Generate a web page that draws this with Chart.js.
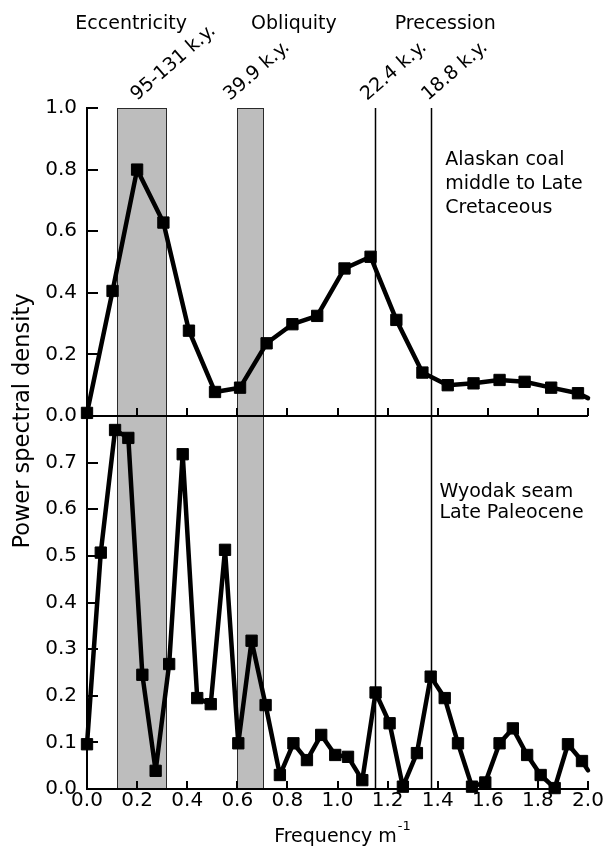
<!DOCTYPE html>
<html>
<head>
<meta charset="utf-8">
<title>Power spectral density</title>
<script src="https://cdn.jsdelivr.net/npm/chart.js@4.4.1/dist/chart.umd.min.js"></script>
<style>
  html, body { margin: 0; padding: 0; background: #fff; }
  #wrap { width: 606px; height: 846px; }
</style>
</head>
<body>
<div id="wrap"><canvas id="psdChart" width="606" height="846"></canvas></div>
<script>
// --- Data ---
// top panel: Alaskan coal, middle to Late Cretaceous (last point is the line end, no marker)
const alaskaFreq = [0, 0.102, 0.2, 0.305, 0.407, 0.511, 0.611, 0.717, 0.82, 0.919,
    1.028, 1.132, 1.235, 1.339, 1.44, 1.543, 1.647, 1.747, 1.853, 1.96, 2.0];
const alaskaPower = [0.01, 0.406, 0.80, 0.628, 0.277, 0.078, 0.092, 0.236, 0.298, 0.325,
    0.479, 0.517, 0.312, 0.141, 0.10, 0.106, 0.117, 0.111, 0.092, 0.074, 0.058];

// bottom panel: Wyodak seam, Late Paleocene
const wyodakFreq = [0, 0.055, 0.112, 0.165, 0.221, 0.274, 0.328, 0.382, 0.44, 0.494,
    0.551, 0.604, 0.657, 0.713, 0.77, 0.824, 0.878, 0.935, 0.991, 1.042,
    1.099, 1.152, 1.208, 1.261, 1.317, 1.372, 1.428, 1.481, 1.537, 1.59,
    1.647, 1.70, 1.757, 1.811, 1.867, 1.92, 1.976, 2.0];
const wyodakPower = [0.096, 0.507, 0.770, 0.753, 0.245, 0.039, 0.268, 0.718, 0.195, 0.182,
    0.513, 0.098, 0.318, 0.180, 0.030, 0.098, 0.062, 0.116, 0.073, 0.069,
    0.019, 0.207, 0.141, 0.005, 0.077, 0.241, 0.195, 0.098, 0.005, 0.014,
    0.098, 0.130, 0.073, 0.030, 0.002, 0.096, 0.060, 0.04];

const xTicks = [0, 0.2, 0.4, 0.6, 0.8, 1.0, 1.2, 1.4, 1.6, 1.8, 2.0];
const topTicks = [0, 0.2, 0.4, 0.6, 0.8, 1.0];
const bottomTicks = [0, 0.1, 0.2, 0.3, 0.4, 0.5, 0.6, 0.7];

// orbital bands / lines, in frequency (m^-1)
const bands = [[0.12, 0.32], [0.60, 0.707]];
const periodLines = [1.15, 1.373];
const periodLabels = ['95-131 k.y.', '39.9 k.y.', '22.4 k.y.', '18.8 k.y.'];
const periodLabelFreq = [0.2, 0.571, 1.118, 1.361];
const cycleNames = ['Eccentricity', 'Obliquity', 'Precession'];
const cycleNameFreq = [0.176, 0.826, 1.43];
const alaskaNote = ['Alaskan coal', 'middle to Late', 'Cretaceous'];
const wyodakNote = ['Wyodak seam', 'Late Paleocene'];

const FONT = '"DejaVu Sans", sans-serif';

window.onload = () => {
    initChart();
};

// --- Helpers ---
function toPoints(xs, ys) {
    return xs.map((x, i) => ({ x: x, y: ys[i] }));
}

// marker on every point but the final line end
function markerRadii(n) {
    return Array.from({ length: n }, (_, i) => (i === n - 1 ? 0 : 8));
}

function setTicks(list) {
    return scale => { scale.ticks = list.map(v => ({ value: v })); };
}

// --- Extra drawing: bands, period lines, inner axis, ticks, texts ---
const panelDecor = {
    id: 'panelDecor',
    beforeDraw(chart) {
        const { ctx, scales: { x, yTop, yBot } } = chart;
        const top = yTop.getPixelForValue(1);
        const bottom = yBot.getPixelForValue(0);
        ctx.save();
        ctx.fillStyle = '#fff';
        ctx.fillRect(0, 0, chart.width, chart.height);

        bands.forEach(([a, b]) => {
            const l = Math.round(x.getPixelForValue(a));
            const r = Math.round(x.getPixelForValue(b));
            ctx.fillStyle = '#bdbdbd';
            ctx.fillRect(l, top, r - l, bottom - top);
            ctx.strokeStyle = '#2a2a2a';
            ctx.lineWidth = 1;
            ctx.strokeRect(l + 0.5, top + 0.5, r - l - 1, bottom - top);
        });

        ctx.strokeStyle = '#000';
        ctx.lineWidth = 1.5;
        periodLines.forEach(f => {
            const px = Math.round(x.getPixelForValue(f)) + 0.5;
            ctx.beginPath();
            ctx.moveTo(px, top);
            ctx.lineTo(px, bottom);
            ctx.stroke();
        });
        ctx.restore();
    },
    beforeDatasetsDraw(chart) {
        const { ctx, scales: { x, yTop, yBot } } = chart;
        const left = x.getPixelForValue(0);
        const midY = yTop.getPixelForValue(0);
        const botY = yBot.getPixelForValue(0);
        ctx.save();
        ctx.strokeStyle = '#000';
        ctx.lineWidth = 2;

        // axis between the two panels
        ctx.beginPath();
        ctx.moveTo(left, midY);
        ctx.lineTo(x.getPixelForValue(2), midY);
        ctx.stroke();

        // x ticks pointing up, on both axes
        ctx.beginPath();
        xTicks.slice(1).forEach(v => {
            const px = Math.round(x.getPixelForValue(v));
            [midY, botY].forEach(py => {
                ctx.moveTo(px, py);
                ctx.lineTo(px, py - 8);
            });
        });
        // y ticks pointing right
        [[yTop, topTicks], [yBot, bottomTicks]].forEach(([s, list]) => {
            list.forEach(v => {
                const py = Math.round(s.getPixelForValue(v));
                ctx.moveTo(left, py);
                ctx.lineTo(left + 11, py);
            });
        });
        ctx.stroke();
        ctx.restore();
    },
    afterDraw(chart) {
        const { ctx, scales: { x, yTop, yBot } } = chart;
        ctx.save();
        ctx.fillStyle = '#000';
        ctx.font = '19px ' + FONT;
        ctx.textBaseline = 'alphabetic';

        ctx.textAlign = 'center';
        cycleNames.forEach((t, i) => ctx.fillText(t, x.getPixelForValue(cycleNameFreq[i]), 29));

        ctx.textAlign = 'left';
        periodLabels.forEach((t, i) => {
            ctx.save();
            ctx.translate(x.getPixelForValue(periodLabelFreq[i]), 101);
            ctx.rotate(-41 * Math.PI / 180);
            ctx.fillText(t, 0, 0);
            ctx.restore();
        });

        const ax = x.getPixelForValue(1.43);
        const ay = yTop.getPixelForValue(0.815);
        alaskaNote.forEach((t, i) => ctx.fillText(t, ax, ay + i * 24));

        const wx = x.getPixelForValue(1.407);
        const wy = yBot.getPixelForValue(0.627);
        wyodakNote.forEach((t, i) => ctx.fillText(t, wx, wy + i * 21));

        // x axis title with superscript
        const main = 'Frequency m';
        const mw = ctx.measureText(main).width;
        ctx.font = '13px ' + FONT;
        const sw = ctx.measureText('-1').width;
        const startX = 342 - (mw + sw) / 2;
        ctx.fillText('-1', startX + mw + 1, 830);
        ctx.font = '19px ' + FONT;
        ctx.fillText(main, startX, 842);

        // y axis title
        ctx.font = '22.5px ' + FONT;
        ctx.textAlign = 'center';
        ctx.textBaseline = 'middle';
        ctx.translate(23, 421);
        ctx.rotate(-Math.PI / 2);
        ctx.fillText('Power spectral density', 0, 0);
        ctx.restore();
    }
};

// --- Chart ---
let psdChart;
function initChart() {
    const ctx = document.getElementById('psdChart').getContext('2d');
    const lineStyle = {
        borderColor: '#000',
        backgroundColor: '#000',
        borderWidth: 4.5,
        borderJoinStyle: 'round',
        borderCapStyle: 'round',
        pointStyle: 'rect',
        pointBackgroundColor: '#000',
        pointBorderColor: '#000',
        pointBorderWidth: 1,
        tension: 0,
        clip: false
    };
    const yCommon = {
        type: 'linear',
        position: 'left',
        stack: 'psd',
        grid: { display: false, drawTicks: false },
        border: { display: true, color: '#000', width: 2 },
        ticks: {
            font: { family: FONT, size: 20 },
            color: '#000',
            padding: 10,
            callback: v => v.toFixed(1)
        },
        afterFit: s => { s.width = 87; }
    };

    psdChart = new Chart(ctx, {
        type: 'line',
        data: {
            datasets: [{
                label: 'Alaskan coal',
                data: toPoints(alaskaFreq, alaskaPower),
                yAxisID: 'yTop',
                pointRadius: markerRadii(alaskaFreq.length),
                ...lineStyle
            }, {
                label: 'Wyodak seam',
                data: toPoints(wyodakFreq, wyodakPower),
                yAxisID: 'yBot',
                pointRadius: markerRadii(wyodakFreq.length),
                ...lineStyle
            }]
        },
        options: {
            responsive: false,
            animation: false,
            events: [],
            layout: { padding: { left: 0, top: 108, right: 18, bottom: 0 } },
            plugins: {
                legend: { display: false },
                tooltip: { enabled: false }
            },
            scales: {
                x: {
                    type: 'linear',
                    min: 0,
                    max: 2,
                    grid: { display: false, drawTicks: false },
                    border: { display: true, color: '#000', width: 2 },
                    ticks: {
                        font: { family: FONT, size: 20 },
                        color: '#000',
                        padding: 0,
                        maxRotation: 0,
                        autoSkip: false,
                        callback: v => v.toFixed(1)
                    },
                    afterBuildTicks: setTicks(xTicks),
                    afterFit: s => { s.height = 57; }
                },
                yBot: {
                    ...yCommon,
                    min: 0,
                    max: 0.8,
                    stackWeight: 373,
                    afterBuildTicks: setTicks(bottomTicks)
                },
                yTop: {
                    ...yCommon,
                    min: 0,
                    max: 1,
                    stackWeight: 308,
                    afterBuildTicks: setTicks(topTicks)
                }
            }
        },
        plugins: [panelDecor]
    });
}
</script>
</body>
</html>
